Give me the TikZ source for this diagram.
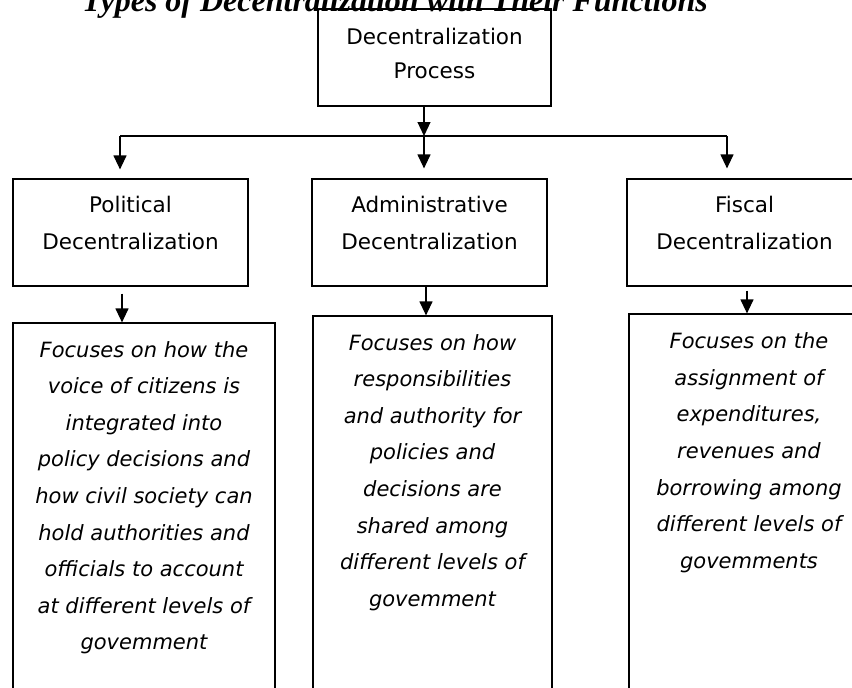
\documentclass[tikz,border=0pt]{standalone}
\usepackage{fontspec}
\setmainfont{DejaVu Sans}
\newfontfamily\titlefont{Liberation Serif}
\usetikzlibrary{arrows.meta}

% text at the top of a fixed box: height, width, top gap, lines
\newcommand{\boxtext}[4]{\parbox[c][#1][t]{#2}{\centering\vspace*{#3}\strut #4}}

\tikzset{
  headbox/.style={draw, line width=1.2pt, inner sep=0pt, font=\fontsize{21.5}{37}\selectfont},
  notebox/.style={draw, line width=1.2pt, inner sep=0pt, font=\fontsize{21}{36.6}\selectfont\itshape},
  arr/.style={-{Triangle[width=13pt,length=14pt]}, line width=1.2pt}
}

\begin{document}
\begin{tikzpicture}[x=1pt, y=-1pt]
\clip (0,0) rectangle (852,688);

% title, cut at the top
\node (title) [font=\titlefont\bfseries\itshape\fontsize{32}{36}\selectfont, anchor=base, inner sep=0pt] at (395,11) {Types of Decentralization with Their Functions};

% boxes
\node (proc) [headbox, font=\fontsize{21.5}{34}\selectfont] at (434.5,57.5) {\boxtext{97pt}{233pt}{12pt}{Decentralization\\Process}};
\node (pol) [headbox] at (130.5,232.5) {\boxtext{107pt}{235pt}{7.6pt}{Political\\Decentralization}};
\node (adm) [headbox] at (429.5,232.5) {\boxtext{107pt}{235pt}{7.6pt}{Administrative\\Decentralization}};
\node (fis) [headbox] at (744.5,232.5) {\boxtext{107pt}{235pt}{7.6pt}{Fiscal\\Decentralization}};

\node (poldet) [notebox] at (144,523) {\boxtext{400pt}{262pt}{8.4pt}{Focuses on how the\\voice of citizens is\\integrated into\\policy decisions and\\how civil society can\\hold authorities and\\officials to account\\at different levels of\\govemment}};
\node (admdet) [notebox] at (432.5,516) {\boxtext{400pt}{239pt}{8.4pt}{Focuses on how\\responsibilities\\and authority for\\policies and\\decisions are\\shared among\\different levels of\\govemment}};
\node (fisdet) [notebox] at (749,514) {\boxtext{400pt}{240pt}{9pt}{Focuses on the\\assignment of\\expenditures,\\revenues and\\borrowing among\\different levels of\\govemments}};

% branching line
\coordinate (jl) at (120,136);
\coordinate (jm) at (424,136);
\coordinate (jr) at (727,136);
\draw [line width=1.2pt] (jl) -- (jr);
\draw [arr] (proc.south -| jm) -- (jm);
\draw [arr] (jl) -- ([yshift=9pt]jl |- pol.north);
\draw [arr] (jm) -- ([yshift=10pt]jm |- adm.north);
\draw [arr] (jr) -- ([yshift=10pt]jr |- fis.north);

% down to the notes
\draw [arr] ([xshift=-8.5pt,yshift=-7pt]pol.south) -- ([xshift=-8.5pt]pol.south |- poldet.north);
\draw [arr] ([xshift=-3.5pt]adm.south) -- ([xshift=-3.5pt]adm.south |- admdet.north);
\draw [arr] ([xshift=2.5pt,yshift=-4pt]fis.south) -- ([xshift=2.5pt]fis.south |- fisdet.north);
\end{tikzpicture}
\end{document}
